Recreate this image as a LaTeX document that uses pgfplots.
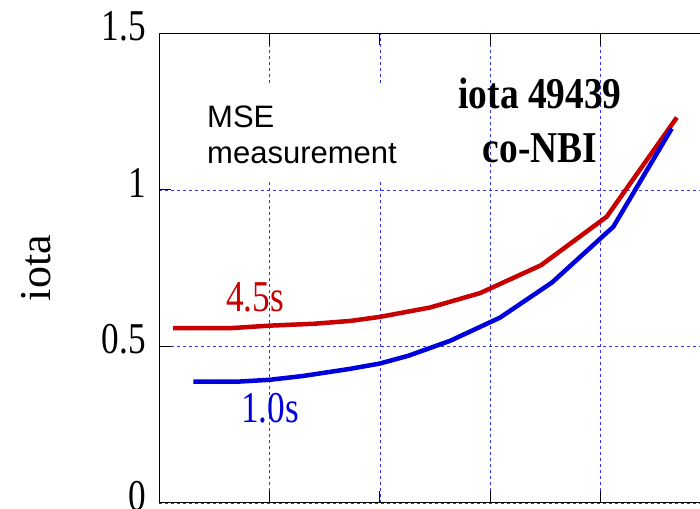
\documentclass[border=0pt]{standalone}
\usepackage{fontspec}
\setmainfont{Liberation Serif}
\newfontfamily\sansf{Liberation Sans}
\newfontfamily\condf[FakeStretch=0.8]{Liberation Serif}
\newfontfamily\boldf[FakeStretch=0.85]{Liberation Serif Bold}
\usepackage{pgfplots}
\pgfplotsset{compat=1.18}
\definecolor{cred}{RGB}{200,0,0}
\definecolor{cblue}{RGB}{0,0,220}
\definecolor{gridblue}{RGB}{50,50,240}
\begin{document}
\begin{tikzpicture}
\begin{axis}[
  x=110.4bp, y=313bp,
  xmin=0, xmax=4.9, ymin=0, ymax=1.5,
  axis y line*=left,
  axis line style={black, line width=0.8bp},
  xtick={1,2,3,4}, xticklabels={},
  ytick={0,0.5,1,1.5},
  yticklabels={0,0.5,1,1.5},
  xtick pos=both,
  tick align=inside,
  major tick length=12bp,
  tick style={black, line width=0.8bp},
  grid=major,
  major grid style={gridblue, line width=0.6bp, dash pattern=on 3bp off 3bp},
  yticklabel style={font=\condf\fontsize{44bp}{44bp}\selectfont, anchor=east, inner sep=0pt, xshift=-13bp, yshift=7bp},
]
\coordinate (ll) at (rel axis cs:0,0);
\coordinate (ur) at (rel axis cs:1,1);
\coordinate (ymid) at (rel axis cs:0,0.5);
\fill[white] (axis cs:0.326,1.028) rectangle (axis cs:2.27,1.341);
\addplot[cred, line width=4.5bp] coordinates {
(0.127,0.558) (0.643,0.558) (1.0,0.566) (1.4,0.572) (1.73,0.581) (2.0,0.594)
(2.455,0.624) (2.908,0.670) (3.46,0.759) (4.055,0.914) (4.69,1.231)};
\addplot[cblue, line width=4.5bp] coordinates {
(0.311,0.387) (0.707,0.387) (1.0,0.393) (1.3,0.405) (1.73,0.428) (2.0,0.445)
(2.26,0.470) (2.64,0.518) (3.09,0.592) (3.56,0.704) (4.115,0.882) (4.644,1.196)};
\node[anchor=base west, inner sep=0pt, font=\sansf\fontsize{31bp}{31bp}\selectfont] at (axis cs:0.435,1.200) {MSE};
\node[anchor=base west, inner sep=0pt, font=\sansf\fontsize{31bp}{31bp}\selectfont] at (axis cs:0.435,1.085) {measurement};
\node[anchor=base, inner sep=0pt, font=\boldf\fontsize{44bp}{44bp}\selectfont] at (axis cs:3.451,1.261) {iota 49439};
\node[anchor=base, inner sep=0pt, font=\boldf\fontsize{44bp}{44bp}\selectfont] at (axis cs:3.451,1.088) {co-NBI};
\node[anchor=base, inner sep=0pt, text=cred, font=\condf\fontsize{44bp}{44bp}\selectfont] at (axis cs:0.870,0.612) {4.5s};
\node[anchor=base, inner sep=0pt, text=cblue, font=\condf\fontsize{44bp}{44bp}\selectfont] at (axis cs:1.005,0.258) {1.0s};
\end{axis}
\node[rotate=90, anchor=base, inner sep=0pt, font=\fontsize{44bp}{44bp}\selectfont] at ([xshift=-109bp,yshift=0bp]ymid) {iota};
\pgfresetboundingbox
\path ([shift={(-159bp,-5.3bp)}]ll) rectangle ([shift={(0bp,33.3bp)}]ur);
\end{tikzpicture}
\end{document}
